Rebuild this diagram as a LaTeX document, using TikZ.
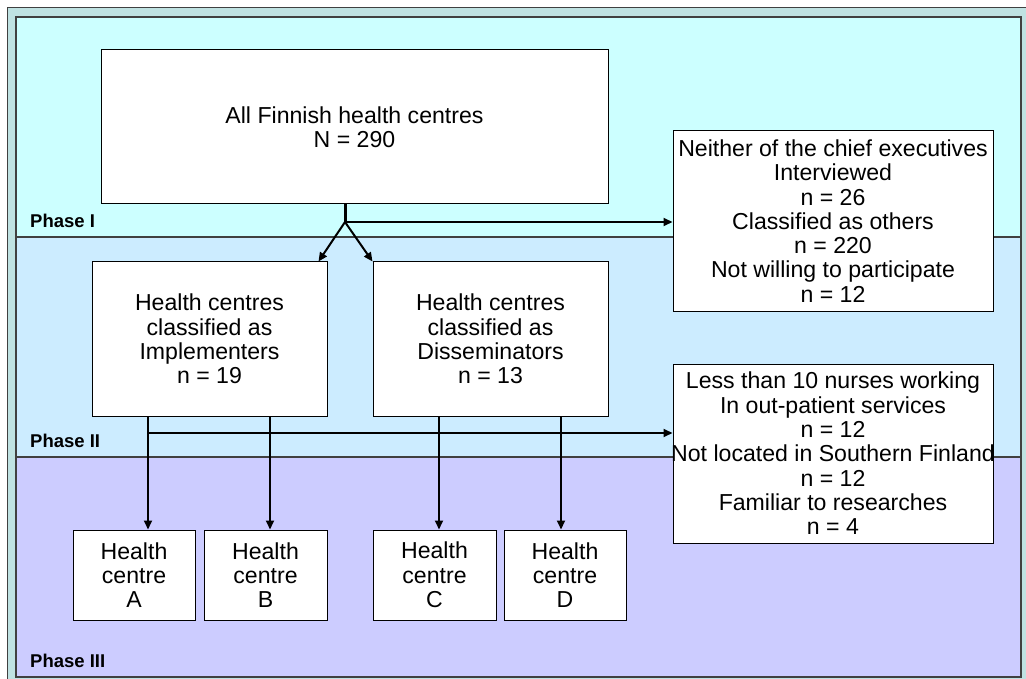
\documentclass[tikz,border=0pt]{standalone}
\usepackage{fontspec}
\setmainfont{Liberation Sans}
\usetikzlibrary{arrows.meta}
\definecolor{frameteal}{HTML}{BFE2E2}
\definecolor{phaseone}{HTML}{CCFFFF}
\definecolor{phasetwo}{HTML}{CCECFF}
\definecolor{phasethree}{HTML}{CCCCFF}
\definecolor{edgegray}{HTML}{404040}
\begin{document}
\begin{tikzpicture}[x=1pt,y=-1pt,
  box/.style={draw=black, line width=1pt, fill=white, inner sep=0pt, align=center,
              font=\fontsize{23.1}{24.3}\selectfont},
  phaselabel/.style={anchor=base west, inner sep=0pt, font=\bfseries\fontsize{18.5}{20}\selectfont},
  conn/.style={line width=2pt},
  stemline/.style={line width=3pt},
  arr/.style={line width=2pt, -{Triangle[length=9pt,width=8pt]}},
  band/.style={edgegray, line width=1.2pt}
]
\useasboundingbox (0,0) rectangle (1026,679);
% outer frame
\fill[frameteal] (7,8) rectangle (1026,679);
\draw[edgegray, line width=1pt] (7,679) -- (7,8) -- (1026,8);
% phase bands
\fill[phaseone] (16,17) rectangle (1021,237);
\fill[phasetwo] (16,237) rectangle (1021,457);
\fill[phasethree] (16,457) rectangle (1021,677);
\draw[band] (16,237) -- (1021,237);
\draw[band] (16,457) -- (1021,457);
\draw[edgegray, line width=1.4pt] (16,17) rectangle (1021,677);
% phase labels
\node[phaselabel] (p1) at (30,228) {Phase I};
\node[phaselabel] (p2) at (30,447) {Phase II};
\node[phaselabel] (p3) at (30,667) {Phase III};
% boxes
\node[box, minimum width=507pt, minimum height=154pt] (top) at (354.5,127)
  {All Finnish health centres\\N = 290};
\node[box, minimum width=320pt, minimum height=180pt] (neither) at (833,221)
  {Neither of the chief executives\\Interviewed\\n = 26\\Classified as others\\n = 220\\Not willing to participate\\n = 12};
\node[box, minimum width=235pt, minimum height=154pt] (impl) at (209.5,339)
  {Health centres\\classified as\\Implementers\\n = 19};
\node[box, minimum width=235pt, minimum height=154pt] (diss) at (490.5,339)
  {Health centres\\classified as\\Disseminators\\n = 13};
\node[box, minimum width=320pt, minimum height=179pt] (less) at (833,453.5)
  {Less than 10 nurses working\\In out-patient services\\n = 12\\\makebox[316pt][c]{Not located in Southern Finland}\\n = 12\\Familiar to researches\\n = 4};
\node[box, minimum width=122pt, minimum height=90pt] (hcA) at (134,575) {Health\\centre\\A};
\node[box, minimum width=123pt, minimum height=90pt] (hcB) at (265.5,575) {Health\\centre\\B};
\node[box, minimum width=123pt, minimum height=90pt] (hcC) at (434.5,575) {Health\\centre\\C};
\node[box, minimum width=122pt, minimum height=90pt] (hcD) at (565,575) {Health\\centre\\D};
% connectors phase I
\coordinate (J) at (345,222);
\draw[stemline] (J |- top.south) -- (J);
\draw[arr] (J) -- (J -| neither.west);
\draw[arr] (J) -- ([xshift=-9pt]impl.north east);
\draw[arr] (J) -- (diss.north west);
% connectors phase II/III
\coordinate (va) at (148,416);
\coordinate (vb) at (270,416);
\coordinate (vc) at (439,416);
\coordinate (vd) at (561,416);
\coordinate (H) at (148,433);
\draw[arr] (H) -- (H -| less.west);
\draw[arr] (va) -- (va |- hcA.north);
\draw[arr] (vb) -- (vb |- hcB.north);
\draw[arr] (vc) -- (vc |- hcC.north);
\draw[arr] (vd) -- (vd |- hcD.north);
\end{tikzpicture}
\end{document}
